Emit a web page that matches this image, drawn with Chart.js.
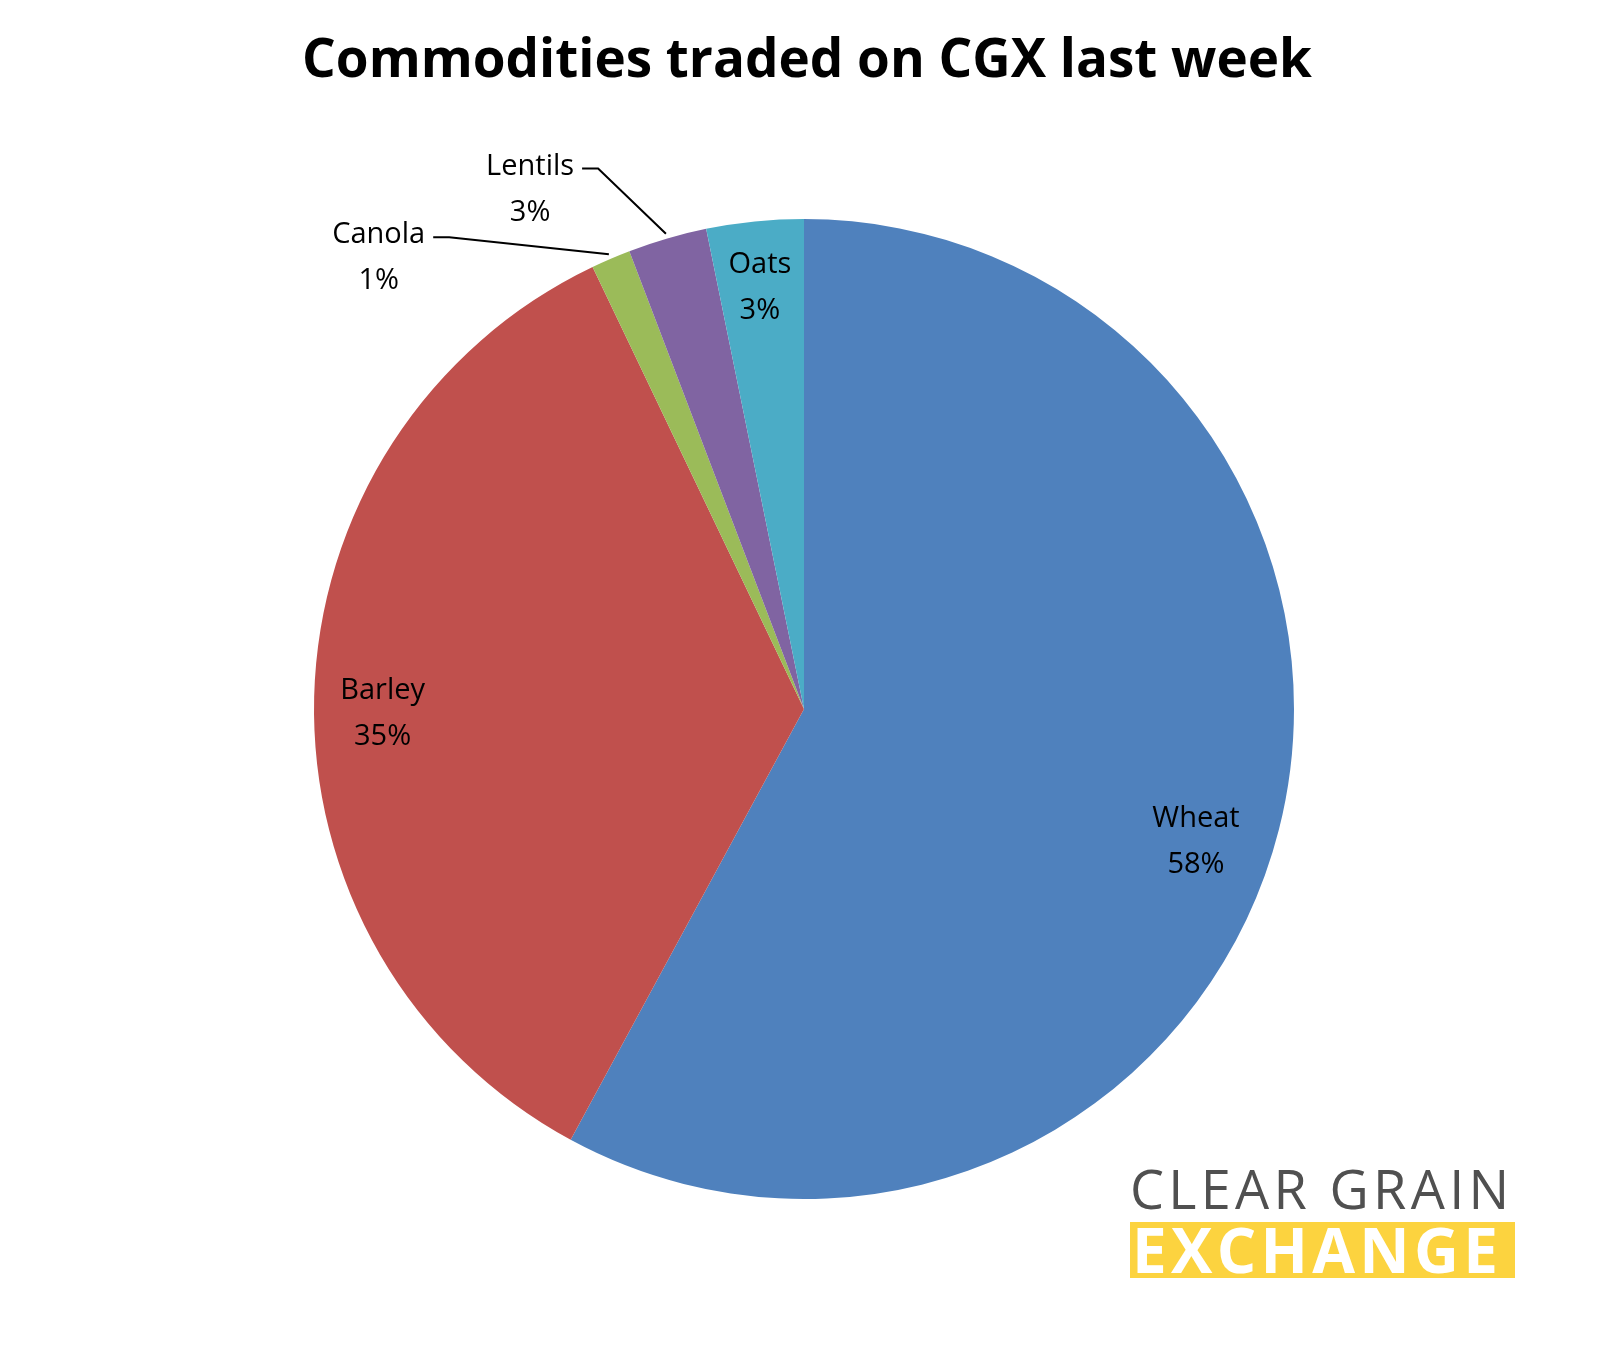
<!DOCTYPE html>
<html><head><meta charset="utf-8">
<script src="https://cdn.jsdelivr.net/npm/chart.js@4"></script>
<style>
body{margin:0;background:#fff;}
#wrap{position:relative;width:1608px;height:1350px;}
#logo{position:absolute;left:1130px;top:1160px;width:385px;font-family:"Open Sans",sans-serif;}
#l1{color:#505050;font-size:54px;line-height:56px;letter-spacing:4.3px;white-space:nowrap;}
#l2{background:#fcd33f;color:#fff;font-weight:bold;font-size:62px;line-height:54px;height:56px;margin-top:6px;white-space:nowrap;letter-spacing:4.3px;padding-left:2px;overflow:hidden;}
</style></head><body>
<div id="wrap"><canvas id="c" width="1608" height="1350"></canvas>
<div id="logo"><div id="l1">CLEAR GRAIN</div><div id="l2">EXCHANGE</div></div></div>
<script>
const categories=["Wheat","Barley","Canola","Lentils","Oats"];
const values=[57.9,35.0,1.3,2.6,3.2];
const percentLabels=["58%","35%","1%","3%","3%"];
const colors=["#4f81bd","#c0504d","#9bbb59","#8064a2","#4bacc6"];
const labelPos=[[0.80,0.27],[-0.86,0.01],[-0.868,-0.92],[-0.559,-1.06],[-0.09,-0.86]];
const hasLeader=[false,false,true,true,false];
const labelPlugin={id:'lbl',afterDraw(chart){
 const ctx=chart.ctx;ctx.save();
 ctx.fillStyle='#000';ctx.font='bold 53px "Open Sans", sans-serif';ctx.textAlign='center';ctx.textBaseline='middle';
 ctx.fillText('Commodities traded on CGX last week',807,62);
 ctx.font='29px "Open Sans", sans-serif';
 chart.getDatasetMeta(0).data.forEach((a,i)=>{
  const R=a.outerRadius;
  const x=a.x+labelPos[i][0]*R,y=a.y+labelPos[i][1]*R;
  ctx.fillStyle='#000';
  ctx.fillText(categories[i],x,y-23);ctx.fillText(percentLabels[i],x,y+23);
  if(hasLeader[i]){
   const mid=(a.startAngle+a.endAngle)/2;
   const ex=a.x+Math.cos(mid)*R*1.01,ey=a.y+Math.sin(mid)*R*1.01;
   const w=ctx.measureText(categories[i]).width/2;
   const hx=x+w+8,hy=y-21;
   ctx.strokeStyle='#000';ctx.lineWidth=2;ctx.beginPath();
   ctx.moveTo(ex,ey);ctx.lineTo(hx+16,hy);ctx.lineTo(hx,hy);ctx.stroke();
  }
 });
 ctx.restore();}};
new Chart(document.getElementById('c'),{type:'pie',
 data:{labels:categories,datasets:[{data:values,backgroundColor:colors,borderWidth:0}]},
 options:{responsive:false,animation:false,
  layout:{padding:{top:219,bottom:151,left:0,right:0}},
  plugins:{legend:{display:false},tooltip:{enabled:false}}},
 plugins:[labelPlugin]});
</script></body></html>
